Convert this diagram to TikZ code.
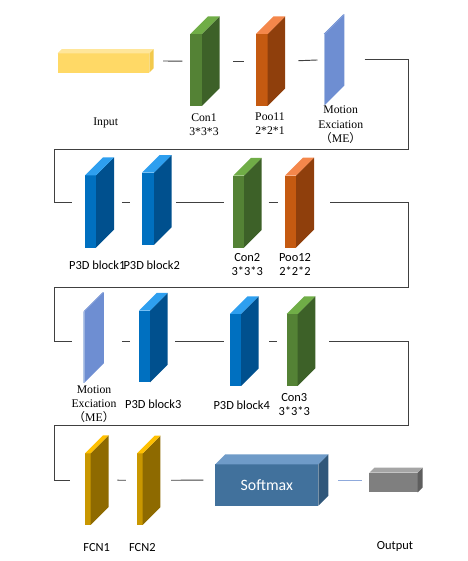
\documentclass[tikz,border=0pt]{standalone}
\usepackage{fontspec}
\setmainfont{Liberation Serif}
\setsansfont{Carlito}
\newfontfamily\cjk{Noto Sans CJK SC}
\usetikzlibrary{fit}

\definecolor{linegray}{HTML}{404040}
\definecolor{linkblue}{HTML}{8FAADC}
\definecolor{inF}{HTML}{FFD966}\definecolor{inS}{HTML}{F2C94C}\definecolor{inT}{HTML}{FFE699}
\definecolor{cvF}{HTML}{548235}\definecolor{cvS}{HTML}{3D6128}\definecolor{cvT}{HTML}{70AD47}
\definecolor{plF}{HTML}{C55A11}\definecolor{plS}{HTML}{8F3F0C}\definecolor{plT}{HTML}{F4874B}
\definecolor{meF}{HTML}{B4C7E7}\definecolor{meS}{HTML}{6E8ED2}
\definecolor{pdF}{HTML}{0070C0}\definecolor{pdS}{HTML}{00508E}\definecolor{pdT}{HTML}{2E9FEF}
\definecolor{fcF}{HTML}{C99700}\definecolor{fcS}{HTML}{8E6A00}\definecolor{fcT}{HTML}{FFC000}
\definecolor{smF}{HTML}{41719C}\definecolor{smS}{HTML}{30577A}\definecolor{smT}{HTML}{6F9BC8}
\definecolor{otF}{HTML}{7F7F7F}\definecolor{otS}{HTML}{5E5E5E}\definecolor{otT}{HTML}{A5A5A5}

% name, x, y (front lower left), width, height, depth, front, side, top
\newcommand\layerbox[9]{%
  \fill[#7] (#2,#3) rectangle ++(#4,#5);
  \fill[#8] (#2+#4,#3) -- ++(#6,#6) -- ++(0,#5) -- ++(-#6,-#6) -- cycle;
  \fill[#9] (#2,#3+#5) -- ++(#4,0) -- ++(#6,#6) -- ++(-#4,0) -- cycle;
  \node[fit={(#2,#3) (#2+#4+#6,#3+#5+#6)}, inner sep=0pt] (#1) {};
}

\begin{document}
\begin{tikzpicture}[x=0.03cm, y=0.03cm,
  link/.style={draw=linegray, line width=0.8pt},
  rm/.style={font=\fontsize{10}{12}\selectfont, align=center, inner sep=0pt},
  sf/.style={font=\sffamily\fontsize{10.6}{11.8}\selectfont, align=center, inner sep=0pt}]
  \useasboundingbox (0,0) rectangle (467,561);

  % row 1
  \layerbox{input}{57.7}{488.3}{91.6}{19.4}{4.2}{inF}{inS}{inT}
  \layerbox{con1}{190.3}{455}{11.7}{72}{17.5}{cvF}{cvS}{cvT}
  \layerbox{poo11}{256}{455}{11.7}{72}{17.5}{plF}{plS}{plT}
  \layerbox{me1}{323.7}{456}{1.2}{71}{19.5}{meF}{meS}{meS}
  \node[rm] (input-lab) at (105.7,438.3) {Input};
  \node[rm] (con1-lab) at (204,436.7) {Con1\\3*3*3};
  \node[rm] (poo11-lab) at (270,437) {Poo11\\2*2*1};
  \node[rm] (me1-lab) at (340.7,436.3) {Motion\\Exciation\\{\cjk （}ME{\cjk ）}};

  % row 2
  \layerbox{p3d1}{85}{313.3}{11}{72.4}{18}{pdF}{pdS}{pdT}
  \layerbox{p3d2}{142}{316}{12}{72.3}{17.5}{pdF}{pdS}{pdT}
  \layerbox{con2}{233.3}{313.3}{10.7}{72}{17.7}{cvF}{cvS}{cvT}
  \layerbox{poo12}{285}{313.3}{11}{72}{18}{plF}{plS}{plT}
  \node[sf] (p3d1-lab) at (97.3,296) {P3D block1};
  \node[sf] (p3d2-lab) at (151.7,296) {P3D block2};
  \node[sf] (con2-lab) at (247.3,296.8) {Con2\\3*3*3};
  \node[sf] (poo12-lab) at (295,296.8) {Poo12\\2*2*2};

  % row 3
  \layerbox{me2}{83.3}{178.3}{1.2}{71}{19.4}{meF}{meS}{meS}
  \layerbox{p3d3}{139}{178.7}{11}{71.6}{17.7}{pdF}{pdS}{pdT}
  \layerbox{p3d4}{230}{175}{11}{72}{17.7}{pdF}{pdS}{pdT}
  \layerbox{con3}{286.7}{175}{11}{72}{17.6}{cvF}{cvS}{cvT}
  \node[rm] (me2-lab) at (94,156.7) {Motion\\Exciation\\{\cjk （}ME{\cjk ）}};
  \node[sf] (p3d3-lab) at (153.3,157) {P3D block3};
  \node[sf] (p3d4-lab) at (241.7,156) {P3D block4};
  \node[sf] (con3-lab) at (294.3,156.8) {Con3\\3*3*3};

  % row 4
  \layerbox{fcn1}{85}{36}{5.7}{71.7}{18}{fcF}{fcS}{fcT}
  \layerbox{fcn2}{137}{36}{5.7}{71.7}{17.6}{fcF}{fcS}{fcT}
  \layerbox{softmax}{215.3}{55.3}{103}{41.4}{10}{smF}{smS}{smT}
  \layerbox{output}{369.3}{68.7}{48.4}{19.6}{5}{otF}{otS}{otT}
  \node[text=white, font=\sffamily\fontsize{13.5}{16}\selectfont] (softmax-lab) at (266.8,76) {Softmax};
  \node[sf] (fcn1-lab) at (96.7,13.7) {FCN1};
  \node[sf] (fcn2-lab) at (142.3,13.7) {FCN2};
  \node[sf] (output-lab) at (395,14.3) {Output};

  % turning points
  \coordinate (u1) at (408.3,411.7);
  \coordinate (u2) at (54.3,411.7);
  \coordinate (v1) at (408.3,273.7);
  \coordinate (v2) at (54.3,273.7);
  \coordinate (w1) at (408.3,135.3);
  \coordinate (w2) at (54.3,135.3);
  \coordinate (r2) at (0,358.7);
  \coordinate (r3) at (0,220);

  % connectors
  \draw[link, shorten <=8.1pt, shorten >=6.5pt] (input.east) -- (con1.west);
  \draw[link, shorten <=11.6pt, shorten >=10.2pt] (con1.east) -- (poo11.west);
  \draw[link, shorten <=11pt, shorten >=5.1pt] (poo11.east) -- (me1.west);
  \draw[link, shorten <=17pt, shorten >=10.5pt] (me1.east) -| (u1) -- (u2) |- (p3d1.west);
  \draw[link, shorten <=6.5pt, shorten >=10.2pt] (p3d1.east |- r2) -- (p3d2.west |- r2);
  \draw[link, shorten <=3.8pt, shorten >=7.7pt] (p3d2.east |- r2) -- (con2.west |- r2);
  \draw[link, shorten <=5.7pt, shorten >=6.2pt] (con2.east |- r2) -- (poo12.west |- r2);
  \draw[link, shorten <=13.6pt, shorten >=9.6pt] (poo12.east) -| (v1) -- (v2) |- (me2.west |- r3);
  \draw[link, shorten <=15.1pt, shorten >=7.7pt] (me2.east |- r3) -- (p3d3.west |- r3);
  \draw[link, shorten <=6.2pt, shorten >=4.8pt] (p3d3.east |- r3) -- (p3d4.west |- r3);
  \draw[link, shorten <=9pt, shorten >=7.7pt] (p3d4.east |- r3) -- (con3.west |- r3);
  \draw[link, shorten <=11.9pt, shorten >=12.8pt] (con3.east) -| (w1) -- (w2) |- (fcn1.west);
  \draw[link, shorten <=7.3pt, shorten >=9.4pt] (fcn1.east) -- (fcn2.west);
  \draw[link, shorten <=9.1pt, shorten >=9.9pt] (fcn2.east) -- (softmax.west);
  \draw[link, draw=linkblue, shorten <=8.2pt, shorten >=6pt] (softmax.east) -- (output.west);
\end{tikzpicture}
\end{document}
